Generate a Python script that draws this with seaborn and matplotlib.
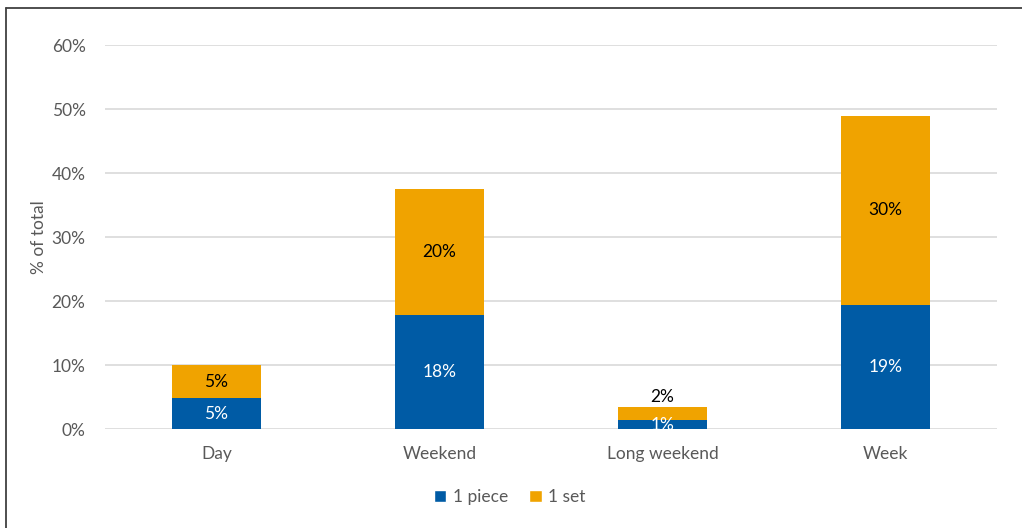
import matplotlib
matplotlib.use("Agg")
import matplotlib.pyplot as plt
from matplotlib.lines import Line2D
from matplotlib.patches import Patch
import seaborn as sns
import pandas as pd

categories = ["Day", "Weekend", "Long weekend", "Week"]
one_piece = [4.8, 17.8, 1.4, 19.4]
one_set = [5.2, 19.7, 2.0, 29.5]
yticks = [0, 10, 20, 30, 40, 50, 60]

BLUE = "#005BA5"
ORANGE = "#F0A300"
GREY_TXT = "#595959"
FS = 12.5

sns.set_theme(style="white")
plt.rcParams["font.family"] = ["Lato", "DejaVu Sans"]

df = pd.DataFrame({"category": categories, "piece": one_piece, "set": one_set})
df["total"] = df["piece"] + df["set"]

fig = plt.figure(figsize=(10.22, 5.28), dpi=100)
ax = fig.add_axes([105 / 1022, 1 - 429 / 528, 892 / 1022, 384 / 528])

# stacked bars: totals in orange, lower segment in blue on top of them
sns.barplot(data=df, x="category", y="total", color=ORANGE, width=0.4,
            saturation=1, linewidth=0, ax=ax, zorder=3)
sns.barplot(data=df, x="category", y="piece", color=BLUE, width=0.4,
            saturation=1, linewidth=0, ax=ax, zorder=3)

ax.set_xlim(-0.5, 3.5)
ax.set_ylim(0, 60)
ax.set_yticks(yticks)
ax.set_yticklabels([f"{v}%" for v in yticks])
ax.yaxis.grid(True, color="#D9D9D9", linewidth=1.2, zorder=0)
ax.set_axisbelow(True)
for side in ["top", "right", "left", "bottom"]:
    ax.spines[side].set_visible(False)
ax.tick_params(axis="both", length=0, labelsize=FS, labelcolor=GREY_TXT)
ax.tick_params(axis="y", pad=14)
ax.tick_params(axis="x", pad=12)
ax.set_xlabel("")
ax.set_ylabel("% of total", fontsize=FS, color=GREY_TXT, labelpad=3)

for i, (p, s) in enumerate(zip(one_piece, one_set)):
    ax.text(i, p / 2, f"{round(p):.0f}%", ha="center", va="center",
            color="white", fontsize=FS, zorder=4)
    if s < 3:
        ax.text(i, p + s + 0.4, f"{round(s):.0f}%", ha="center", va="bottom",
                color="black", fontsize=FS, zorder=4)
    else:
        ax.text(i, p + s / 2, f"{round(s):.0f}%", ha="center", va="center",
                color="black", fontsize=FS, zorder=4)

handles = [Patch(facecolor=BLUE, label="1 piece"), Patch(facecolor=ORANGE, label="1 set")]
leg = fig.legend(handles=handles, loc="center", bbox_to_anchor=(510 / 1022, 1 - 497 / 528),
                 ncol=2, frameon=False, fontsize=FS, handlelength=0.7, handleheight=0.7,
                 handletextpad=0.4, columnspacing=1.2)
for t in leg.get_texts():
    t.set_color(GREY_TXT)

# outer frame on the left and top edges
x0, y0 = 6 / 1022, 1 - 8 / 528
fig.add_artist(Line2D([x0, x0], [0, y0], transform=fig.transFigure, color="#404040", linewidth=1.3))
fig.add_artist(Line2D([x0, 1], [y0, y0], transform=fig.transFigure, color="#404040", linewidth=1.3))

fig.savefig("out.png", dpi=100)
